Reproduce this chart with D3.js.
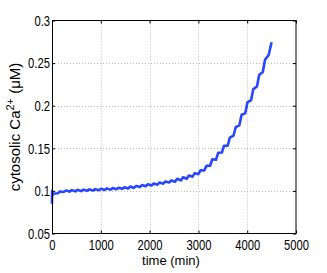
<!DOCTYPE html>
<html><head><meta charset="utf-8">
<script src="https://cdn.jsdelivr.net/npm/d3@7"></script>
<style>body{margin:0;background:#fff}svg{display:block}</style>
</head><body><svg id="c" width="327" height="273"></svg>
<script>
const timeMin = [0,2,8,45,
  120,165,240,285,360,405,480,525,600,645,720,765,840,885,960,1005,
  1080,1125,1200,1245,1320,1365,1440,1485,1560,1605,1680,1725,1800,1845,1920,1965,
  2040,2085,2160,2205,2280,2325,2400,2445,2520,2565,2640,2685,2760,2805,2880,2925,
  3000,3045,3120,3165,3240,3285,3360,3405,3480,3525,3600,3645,3720,3765,3840,3885,
  3960,4005,4080,4125,4200,4245,4320,4365,4440,4485,4500];
const caConc = [0.085,0.1,0.095,0.0969,
  0.0972,0.0994,0.0987,0.1005,0.0992,0.1009,0.0995,0.1012,0.0998,0.1015,0.1001,0.1018,0.1004,0.1021,0.1007,0.1025,
  0.1011,0.1029,0.1015,0.1033,0.1019,0.1037,0.1024,0.1042,0.1028,0.1051,0.1035,0.1059,0.1045,0.1068,0.1054,0.1077,
  0.1063,0.1087,0.1073,0.1098,0.1085,0.111,0.1098,0.1123,0.1107,0.1143,0.1123,0.116,0.1142,0.1181,0.1167,0.1208,
  0.1197,0.1243,0.124,0.1294,0.1295,0.1371,0.1365,0.1447,0.145,0.153,0.153,0.1625,0.165,0.1749,0.177,0.1893,
  0.191,0.2038,0.2065,0.2195,0.2225,0.2359,0.2395,0.254,0.2595,0.271,0.2745];
const xTicks = [0,1000,2000,3000,4000,5000];
const yTicks = [0.05,0.1,0.15,0.2,0.25,0.3];
const yTickLabels = ["0.05","0.1","0.15","0.2","0.25","0.3"];
const xLabel = "time (min)";
const yLabelMain = "cytosolic Ca";
const yLabelSup = "2+";
const yLabelEnd = " (\u03bcM)";

const svg = d3.select("#c");
const L = 52, R = 296, T = 20.5, B = 233.5;
const x = d3.scaleLinear().domain([0,5000]).range([L,R]);
const y = d3.scaleLinear().domain([0.05,0.3]).range([B,T]);
const font = "'Liberation Sans', Arial, sans-serif";

// grid
const grid = svg.append("g").attr("stroke","#bdbdbd").attr("stroke-dasharray","1,2").attr("stroke-width",1);
xTicks.slice(1,-1).forEach(t=>grid.append("line").attr("x1",Math.round(x(t))+0.5).attr("x2",Math.round(x(t))+0.5).attr("y1",T).attr("y2",B));
yTicks.slice(1,-1).forEach(t=>grid.append("line").attr("y1",Math.round(y(t))+0.5).attr("y2",Math.round(y(t))+0.5).attr("x1",L).attr("x2",R));

// line
svg.append("path")
  .datum(timeMin.map((t,i)=>[t,caConc[i]]))
  .attr("fill","none").attr("stroke","#2846ff").attr("stroke-width",2.6)
  .attr("stroke-linejoin","round")
  .attr("d", d3.line().x(d=>x(d[0])).y(d=>y(d[1])));

// axes
const sx = 0.75;
const xAxis = svg.append("g").attr("transform",`translate(0,${B})`)
  .call(d3.axisBottom(x).tickValues(xTicks).tickFormat(d3.format("d")).tickSizeInner(-3).tickSizeOuter(0).tickPadding(6));
const yAxis = svg.append("g").attr("transform",`translate(${L},0)`)
  .call(d3.axisLeft(y).tickValues(yTicks).tickFormat((d,i)=>yTickLabels[i]).tickSizeInner(-3).tickSizeOuter(0).tickPadding(2));
const xTop = svg.append("g").attr("transform",`translate(0,${T})`)
  .call(d3.axisTop(x).tickValues(xTicks).tickFormat("").tickSizeInner(-3).tickSizeOuter(0));
const yRight = svg.append("g").attr("transform",`translate(${R},0)`)
  .call(d3.axisRight(y).tickValues(yTicks).tickFormat("").tickSizeInner(-3).tickSizeOuter(0));
[xAxis,yAxis,xTop,yRight].forEach(g=>{g.select(".domain").remove();g.selectAll("line").attr("stroke","#000");});
xAxis.selectAll("text").attr("font-family",font).attr("font-size",15).attr("fill","#000")
  .attr("transform",`scale(${sx},1)`);
yAxis.selectAll("text").attr("font-family",font).attr("font-size",15).attr("fill","#000")
  .attr("x",-2/sx).attr("transform",`scale(${sx},1)`);

// box
svg.append("rect").attr("x",L+0.5).attr("y",T).attr("width",R-L-0.5).attr("height",B-T)
  .attr("fill","none").attr("stroke","#000").attr("stroke-width",1);

// labels
svg.append("text").attr("x",171).attr("y",265).attr("text-anchor","middle")
  .attr("font-family",font).attr("font-size",13).attr("fill","#000").text(xLabel);
const yl = svg.append("text").attr("transform",`translate(20,127) rotate(-90)`).attr("text-anchor","middle")
  .attr("font-family",font).attr("font-size",15).attr("fill","#000");
yl.append("tspan").text(yLabelMain);
yl.append("tspan").attr("font-size",11).attr("dy",-6).text(yLabelSup);
yl.append("tspan").attr("dy",6).text(yLabelEnd);
</script></body></html>
